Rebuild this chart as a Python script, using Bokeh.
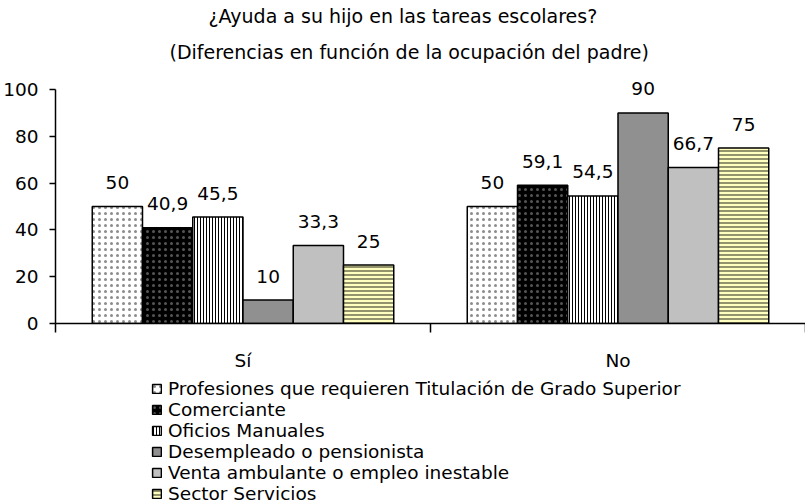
from bokeh.plotting import figure
from bokeh.layouts import column
from bokeh.models import (Range1d, LinearAxis, FixedTicker,
                          Legend, LegendItem, Title, ColumnDataSource, CanvasTexture)
from bokeh.transform import dodge
from bokeh.core.properties import value
from bokeh.embed import file_html
from bokeh.resources import INLINE

# ---------------- data ----------------
categories = ["Sí", "No"]
series_names = [
    "Profesiones que requieren Titulación de Grado Superior",
    "Comerciante",
    "Oficios Manuales",
    "Desempleado o pensionista",
    "Venta ambulante o empleo inestable",
    "Sector Servicios",
]
profesiones = [50, 50]
comerciante = [40.9, 59.1]
oficios = [45.5, 54.5]
desempleado = [10, 90]
venta = [33.3, 66.7]
servicios = [25, 75]
y_ticks = [0, 20, 40, 60, 80, 100]
title_line1 = "¿Ayuda a su hijo en las tareas escolares?"
title_line2 = "(Diferencias en función de la ocupación del padre)"

series_values = [profesiones, comerciante, oficios, desempleado, venta, servicios]

# category slots on a numeric axis: slot i spans [i, i+1]
centers = [i + 0.5 for i in range(len(categories))]
bounds = [float(i) for i in range(len(categories) + 1)]

# ---------------- styles ----------------
FONT = "DejaVu Sans"
checker = CanvasTexture(code="""
const h = scale / 2;
ctx.fillStyle = "#FFFFFF";
ctx.fillRect(0, 0, scale, scale);
ctx.fillStyle = "#000000";
ctx.fillRect(0, 0, h, h);
ctx.fillRect(h, h, h, h);
""")
styles = [
    dict(fill_color="white", hatch_pattern="dot", hatch_color="#8C8C8C", hatch_scale=6, hatch_weight=1),
    dict(fill_color="black", hatch_pattern="dot", hatch_color="#555555", hatch_scale=6, hatch_weight=1),
    dict(fill_color="white", hatch_pattern="vertical_line", hatch_color="black", hatch_scale=3, hatch_weight=1),
    dict(fill_color="white", hatch_pattern=value("checker"), hatch_extra={"checker": checker},
         hatch_color="black", hatch_scale=6),
    dict(fill_color="#C0C0C0"),
    dict(fill_color="#FFFFC0", hatch_pattern="horizontal_line", hatch_color="#6E6E50", hatch_scale=4, hatch_weight=1.5),
]

BAR_W = 0.134

p = figure(x_range=Range1d(bounds[0], bounds[-1]),
           y_range=Range1d(0, 106),
           frame_width=750, frame_height=248,
           output_backend="svg", toolbar_location=None,
           x_axis_location=None, y_axis_location=None,
           min_border_left=55, min_border_right=0, min_border_top=75, min_border_bottom=0)
p.outline_line_color = None
p.grid.visible = False
p.background_fill_color = "white"

# titles (the one added later sits nearer the frame)
p.title.text = title_line1
p.title.text_font = FONT
p.title.text_font_size = "19px"
p.title.text_font_style = "normal"
p.title.text_color = "black"
p.title.align = "left"
p.title.offset = 153
p.title.standoff = 0
t2 = Title(text=title_line2, text_font=FONT, text_font_size="19px", text_font_style="normal",
           text_color="black", align="left", offset=114, standoff=25)
p.add_layout(t2, "above")

# bars and labels
legend_items = []
n = len(series_names)
sources = []
for i, (name, vals, st) in enumerate(zip(series_names, series_values, styles)):
    labels = [f"{v:g}".replace(".", ",") for v in vals]
    src = ColumnDataSource(dict(pos=centers, val=vals, label=labels))
    sources.append(src)
    off = (i - (n - 1) / 2) * BAR_W
    p.vbar(x=dodge("pos", off), top="val", bottom=0, width=BAR_W,
           source=src, line_color="black", line_width=1.5, **st)
    p.text(x=dodge("pos", off), y="val", text="label", source=src,
           text_align="center", text_baseline="middle", y_offset=-24,
           text_font=value(FONT), text_font_size="18.5px", text_color="black")

# y axis
yaxis = LinearAxis(ticker=FixedTicker(ticks=y_ticks), bounds=(0, 100),
                   axis_line_width=1.5, major_tick_line_width=1.5,
                   major_tick_out=6, major_tick_in=0, minor_tick_out=0, minor_tick_in=0,
                   major_label_standoff=11,
                   major_label_text_font=FONT, major_label_text_font_size="18.5px",
                   major_label_text_color="black")
p.add_layout(yaxis, "left")

# x axis: labels at slot centres, tick marks at slot boundaries
xaxis = LinearAxis(ticker=FixedTicker(ticks=centers, minor_ticks=bounds),
                   major_label_overrides={c: lab for c, lab in zip(centers, categories)},
                   axis_line_width=1.5, minor_tick_line_width=1.5,
                   major_tick_out=0, major_tick_in=0, minor_tick_out=9, minor_tick_in=0,
                   major_label_standoff=17,
                   major_label_text_font=FONT, major_label_text_font_size="18.5px",
                   major_label_text_color="black")
p.add_layout(xaxis, "below")

# ---------------- legend (own strip below the chart) ----------------
lg = figure(x_range=Range1d(100, 101), y_range=Range1d(1000, 1001),
            width=805, height=131, output_backend="svg", toolbar_location=None,
            x_axis_location=None, y_axis_location=None,
            min_border_left=0, min_border_right=0, min_border_top=0, min_border_bottom=0)
lg.outline_line_color = None
lg.grid.visible = False
for i, (name, st, src) in enumerate(zip(series_names, styles, sources)):
    off = (i - (n - 1) / 2) * BAR_W
    r = lg.vbar(x=dodge("pos", off), top="val", bottom=0, width=BAR_W,
                source=src, line_color="black", line_width=1.5, **st)
    legend_items.append(LegendItem(label=name, renderers=[r]))

legend = Legend(items=legend_items, location=(96, 0), orientation="vertical",
                glyph_width=11, glyph_height=11, label_height=15, label_standoff=6,
                spacing=-2, padding=0, margin=0,
                label_text_font=FONT, label_text_font_size="18.5px", label_text_color="black",
                border_line_color=None, background_fill_alpha=0)
lg.add_layout(legend, "center")

layout = column(p, lg, spacing=0)
open("out.html", "w").write(file_html(layout, INLINE))
